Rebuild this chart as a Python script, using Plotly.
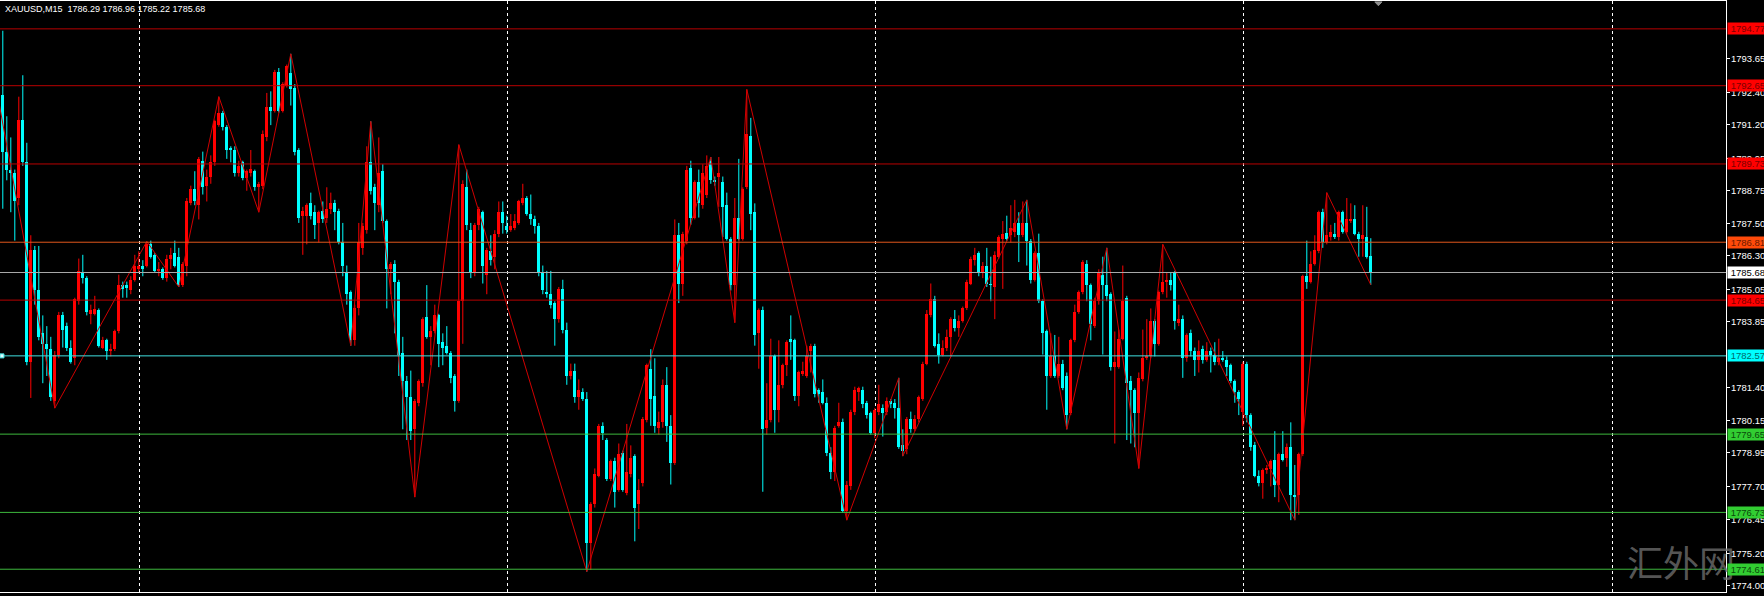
import plotly.graph_objects as go

symbol = "XAUUSD,M15"

opens = [
1792.51,1792.31,1790.19,1789.52,1789.39,1788.46,1791.38,1789.79,1782.35,1786.53,
1785.01,1783.41,1783.02,1782.82,1780.89,1782.62,1784.08,1783.68,1782.88,1782.48,
1784.61,1785.67,1785.47,1784.14,1784.14,1784.28,1782.88,1783.15,1782.75,1782.82,
1783.48,1785.21,1785.21,1785.01,1785.41,1785.80,1785.94,1785.94,1786.73,1786.34,
1785.74,1785.80,1785.47,1786.20,1786.40,1786.27,1785.21,1785.94,1788.26,1788.79,
1788.19,1789.85,1788.92,1789.26,1789.79,1791.18,1791.65,1791.12,1790.32,1790.25,
1789.39,1789.79,1789.19,1789.39,1789.46,1788.86,1788.92,1790.72,1791.85,1791.71,
1793.17,1791.71,1792.64,1793.11,1792.58,1790.25,1787.80,1787.80,1788.26,1787.93,
1787.53,1787.99,1787.73,1788.06,1788.26,1787.99,1786.80,1785.67,1784.94,1783.15,
1784.34,1786.60,1787.26,1789.79,1788.86,1788.19,1789.46,1787.60,1785.80,1786.00,
1785.34,1782.68,1781.62,1781.02,1779.83,1780.82,1781.55,1784.01,1783.28,1783.48,
1784.08,1783.08,1782.95,1782.68,1781.82,1780.89,1784.61,1788.86,1787.26,1785.67,
1787.46,1787.93,1785.60,1786.47,1786.27,1787.13,1787.93,1787.40,1787.26,1787.33,
1787.53,1788.26,1788.46,1787.86,1787.66,1787.40,1785.67,1784.94,1784.87,1784.54,
1783.94,1785.07,1783.55,1781.82,1782.02,1781.02,1781.22,1780.96,1775.58,1777.04,
1778.10,1779.96,1779.43,1777.97,1778.63,1777.57,1778.96,1777.44,1778.17,1778.83,
1777.04,1777.84,1780.16,1782.09,1781.09,1779.89,1780.09,1781.49,1779.96,1778.57,
1787.07,1785.27,1786.87,1789.59,1787.73,1789.06,1788.19,1788.59,1789.85,1789.12,
1789.26,1789.06,1788.19,1786.93,1785.21,1787.73,1786.93,1788.86,1790.78,1787.93,
1783.41,1784.28,1779.89,1780.16,1782.55,1780.56,1781.49,1782.22,1783.21,1783.15,
1781.09,1781.89,1781.82,1782.75,1782.95,1781.29,1781.22,1780.82,1778.96,1778.24,
1779.96,1780.09,1776.77,1777.70,1780.49,1781.22,1781.29,1780.82,1780.43,1779.70,
1780.49,1780.62,1780.49,1780.89,1780.82,1780.62,1779.23,1779.10,1780.23,1779.83,
1780.23,1780.96,1782.28,1784.08,1784.68,1783.02,1782.62,1782.88,1783.28,1783.94,
1783.61,1783.88,1784.34,1785.27,1786.14,1786.40,1785.67,1785.94,1785.27,1785.14,
1786.27,1786.93,1787.16,1787.07,1787.20,1787.53,1787.07,1787.53,1786.87,1785.41,
1786.40,1784.61,1783.48,1781.82,1782.55,1781.82,1782.28,1781.82,1780.43,1783.15,
1784.21,1784.94,1786.00,1785.21,1783.68,1784.61,1785.60,1785.21,1784.87,1782.15,
1782.15,1783.21,1784.74,1781.62,1781.29,1780.43,1781.69,1782.48,1782.55,1783.88,
1783.02,1784.94,1785.34,1785.41,1785.67,1783.81,1783.94,1782.48,1783.41,1782.75,
1782.42,1782.82,1782.42,1782.75,1782.62,1782.35,1782.48,1782.42,1782.22,1781.62,
1781.22,1780.49,1782.28,1780.36,1779.23,1778.10,1777.84,1778.30,1778.34,1778.70,
1777.77,1778.90,1778.77,1779.16,1777.37,1777.37,1778.90,1785.54,1785.34,1786.00,
1786.47,1787.93,1786.80,1787.00,1787.13,1787.00,1787.93,1787.20,1787.60,1787.66,
1787.13,1786.93,1787.00,1786.29]

highs = [
1792.58,1794.70,1791.51,1790.72,1789.52,1792.24,1793.04,1790.52,1787.07,1786.67,
1786.67,1784.08,1783.68,1783.28,1782.75,1784.21,1784.21,1783.81,1783.15,1784.74,
1786.20,1786.34,1785.54,1784.48,1784.81,1784.34,1783.28,1783.21,1783.02,1783.55,
1785.60,1785.34,1785.34,1785.54,1786.34,1786.47,1786.14,1786.84,1786.87,1786.40,
1786.07,1785.87,1786.34,1786.60,1786.87,1786.60,1786.07,1788.46,1788.92,1789.46,
1789.99,1790.19,1789.52,1790.05,1791.38,1792.24,1791.71,1791.18,1790.39,1790.39,
1789.85,1789.85,1789.52,1790.25,1789.52,1789.06,1790.98,1792.38,1792.44,1793.24,
1793.31,1792.78,1793.44,1793.84,1792.71,1790.32,1788.13,1788.26,1788.66,1788.19,
1787.99,1788.33,1788.86,1788.66,1788.39,1788.06,1787.53,1785.94,1785.01,1784.48,
1787.53,1787.53,1790.39,1791.32,1788.99,1790.72,1789.72,1787.66,1786.07,1786.14,
1785.41,1783.28,1781.82,1782.02,1780.96,1781.69,1784.01,1785.21,1783.68,1784.48,
1784.14,1783.41,1783.68,1782.75,1781.89,1790.45,1789.12,1789.52,1787.53,1787.53,
1788.13,1787.99,1786.60,1787.07,1787.26,1788.33,1788.33,1787.80,1787.86,1787.86,
1788.39,1788.99,1788.53,1788.59,1787.80,1787.53,1785.94,1785.74,1785.74,1784.61,
1785.14,1785.41,1783.81,1782.28,1782.28,1781.69,1781.36,1781.22,1777.11,1778.37,
1780.03,1780.09,1779.50,1778.70,1778.77,1779.30,1779.03,1780.03,1779.23,1778.90,
1777.97,1780.29,1782.28,1782.82,1782.48,1780.49,1781.69,1782.15,1780.36,1787.66,
1787.53,1787.20,1789.66,1789.85,1789.12,1789.52,1789.72,1790.05,1789.99,1789.26,
1789.99,1789.26,1788.66,1787.00,1788.46,1789.92,1788.86,1792.51,1791.45,1788.26,
1784.34,1784.41,1781.55,1783.21,1782.62,1783.15,1782.28,1783.15,1784.08,1783.21,
1782.02,1782.35,1782.95,1783.02,1783.02,1781.36,1781.69,1781.02,1779.16,1779.96,
1780.82,1780.23,1777.90,1780.56,1781.42,1781.42,1781.42,1780.89,1780.49,1780.62,
1781.49,1780.76,1781.02,1780.96,1780.96,1781.75,1779.83,1780.29,1780.49,1780.36,
1781.09,1782.35,1784.28,1785.27,1784.81,1783.41,1783.15,1783.55,1784.01,1784.28,
1784.08,1784.41,1785.41,1786.27,1786.60,1786.47,1786.07,1786.60,1786.27,1786.47,
1787.07,1787.60,1787.80,1788.19,1788.39,1787.93,1788.33,1788.39,1786.93,1786.47,
1787.13,1784.68,1783.55,1783.41,1783.35,1783.28,1782.42,1781.95,1783.21,1784.48,
1785.01,1786.14,1786.14,1785.27,1784.74,1785.80,1786.27,1786.60,1784.94,1783.48,
1783.55,1785.94,1784.81,1781.82,1781.36,1781.95,1783.55,1783.94,1784.34,1783.94,
1785.01,1786.73,1785.67,1785.67,1785.74,1784.48,1784.08,1783.41,1783.55,1782.88,
1783.15,1782.95,1783.08,1782.88,1783.08,1783.21,1782.75,1782.55,1782.28,1781.69,
1781.29,1782.35,1782.35,1780.43,1779.36,1778.30,1778.37,1778.50,1778.70,1779.76,
1778.96,1779.76,1779.30,1780.09,1778.50,1778.96,1785.60,1786.87,1786.47,1787.07,
1787.99,1788.06,1788.66,1787.46,1787.53,1787.99,1787.99,1788.46,1788.26,1788.19,
1787.20,1788.19,1788.13,1786.96]

lows = [
1791.51,1788.06,1789.12,1787.93,1786.87,1788.19,1789.66,1782.22,1781.00,1784.48,
1783.15,1781.55,1781.82,1780.89,1780.62,1782.48,1782.88,1782.75,1782.28,1782.22,
1784.48,1785.27,1784.08,1783.75,1784.08,1782.88,1782.82,1782.42,1782.55,1782.75,
1783.41,1784.74,1784.74,1784.87,1785.34,1785.67,1785.54,1785.87,1786.20,1785.67,
1785.54,1785.41,1785.34,1785.80,1785.87,1785.14,1785.14,1785.54,1788.19,1788.19,
1787.66,1788.59,1788.33,1788.99,1789.66,1791.12,1790.98,1789.92,1789.79,1789.26,
1789.26,1789.12,1788.73,1789.26,1788.73,1787.93,1788.79,1790.58,1791.18,1791.65,
1791.65,1791.65,1792.58,1791.91,1790.05,1787.53,1786.34,1786.73,1787.66,1786.93,
1786.80,1787.53,1787.53,1787.86,1787.26,1786.73,1785.54,1784.48,1782.95,1782.95,
1784.08,1786.34,1787.13,1788.59,1787.26,1787.93,1787.53,1784.34,1784.87,1783.41,
1781.82,1779.83,1779.43,1779.43,1777.30,1780.69,1781.42,1783.21,1782.22,1783.41,
1782.15,1782.22,1782.62,1781.55,1780.49,1780.82,1783.02,1787.26,1785.47,1785.54,
1787.26,1785.27,1784.87,1785.94,1785.80,1787.00,1787.13,1787.13,1787.20,1787.26,
1787.46,1788.19,1787.80,1787.46,1787.13,1785.54,1784.87,1784.74,1784.34,1782.95,
1783.81,1783.41,1781.49,1781.69,1780.82,1780.56,1780.89,1774.52,1774.58,1776.91,
1778.04,1779.43,1777.90,1777.90,1776.91,1777.50,1777.50,1777.37,1778.04,1775.65,
1776.11,1777.70,1780.09,1779.96,1779.70,1779.63,1779.89,1779.36,1777.77,1778.50,
1784.54,1784.81,1786.73,1787.46,1787.66,1787.73,1788.06,1788.46,1788.99,1788.92,
1788.13,1787.00,1786.87,1785.01,1783.81,1786.87,1786.87,1788.79,1787.26,1782.95,
1782.09,1777.50,1779.63,1780.09,1779.70,1780.09,1781.36,1781.82,1782.42,1780.89,
1780.69,1781.82,1781.75,1781.95,1781.02,1780.82,1780.76,1778.83,1777.97,1777.90,
1779.89,1776.71,1776.44,1777.57,1780.36,1780.89,1780.62,1780.23,1779.63,1779.50,
1780.36,1779.56,1780.36,1780.62,1780.23,1779.10,1778.83,1778.90,1779.70,1779.76,
1780.09,1780.89,1782.22,1784.01,1782.88,1782.28,1782.55,1782.75,1782.55,1783.48,
1783.28,1783.81,1784.28,1785.21,1785.94,1785.54,1785.47,1785.14,1784.61,1783.94,
1786.20,1785.07,1786.87,1786.80,1787.00,1786.07,1787.00,1785.94,1785.27,1785.34,
1784.54,1782.62,1780.56,1781.75,1781.75,1781.75,1781.29,1779.83,1780.36,1783.08,
1784.14,1784.87,1784.61,1783.15,1783.61,1784.48,1782.62,1784.61,1782.02,1779.30,
1782.09,1783.15,1779.43,1779.30,1779.16,1778.37,1781.62,1782.42,1782.48,1782.55,
1782.95,1784.87,1784.74,1785.01,1783.55,1783.68,1781.75,1782.35,1782.55,1781.82,
1781.95,1782.28,1782.35,1781.95,1782.22,1782.22,1782.35,1781.82,1781.55,1780.82,
1780.36,1779.96,1780.09,1779.03,1778.04,1777.70,1777.24,1778.17,1777.70,1777.30,
1777.11,1778.63,1778.43,1776.44,1776.44,1776.64,1778.83,1785.07,1785.27,1785.94,
1786.40,1786.60,1786.73,1786.87,1786.93,1786.87,1787.13,1787.13,1787.53,1787.07,
1786.27,1786.27,1786.20,1785.22]

closes = [
1791.65,1790.19,1789.52,1789.39,1788.33,1791.38,1789.79,1782.35,1786.53,1785.01,
1783.28,1783.02,1782.82,1781.02,1782.62,1784.08,1783.55,1782.88,1782.35,1784.68,
1785.74,1785.47,1784.21,1784.28,1784.32,1782.95,1783.15,1782.75,1782.82,1783.51,
1785.21,1785.07,1785.11,1785.41,1785.94,1785.94,1785.80,1786.76,1786.27,1785.74,
1785.80,1785.47,1786.20,1786.34,1785.94,1785.21,1786.00,1788.33,1788.79,1788.33,
1789.92,1788.86,1789.26,1789.79,1791.32,1791.65,1791.12,1790.25,1790.25,1789.39,
1789.66,1789.19,1789.46,1789.55,1788.86,1788.99,1790.85,1791.85,1791.71,1793.17,
1791.71,1792.71,1793.37,1792.51,1790.19,1787.73,1787.99,1788.19,1787.80,1787.46,
1787.93,1787.66,1788.06,1788.26,1787.93,1786.80,1785.94,1784.87,1783.15,1784.34,
1786.80,1787.40,1789.79,1788.73,1788.26,1789.39,1787.60,1785.80,1786.00,1785.34,
1782.62,1781.62,1781.02,1779.76,1780.89,1781.62,1783.94,1783.28,1783.48,1784.08,
1783.02,1782.88,1782.68,1781.75,1780.89,1784.61,1788.99,1787.46,1785.67,1787.46,
1788.06,1785.94,1786.53,1786.14,1787.13,1787.93,1787.53,1787.26,1787.40,1787.60,
1788.33,1788.46,1787.86,1787.66,1787.40,1785.67,1785.01,1784.87,1784.48,1783.94,
1785.07,1783.55,1781.82,1782.02,1781.02,1781.29,1780.96,1775.58,1777.04,1778.17,
1779.96,1779.70,1777.97,1778.63,1777.50,1778.90,1777.57,1778.24,1778.77,1776.91,
1777.57,1780.23,1782.22,1780.96,1779.96,1780.09,1781.49,1779.96,1778.57,1787.07,
1785.27,1787.13,1789.52,1787.73,1789.06,1788.26,1789.39,1789.66,1789.12,1789.06,
1789.39,1788.13,1786.93,1785.21,1787.73,1786.93,1788.79,1790.85,1787.86,1783.35,
1784.28,1779.83,1780.16,1782.55,1780.56,1781.49,1782.22,1783.08,1783.08,1781.09,
1781.95,1782.02,1782.55,1782.95,1781.16,1781.16,1780.82,1778.96,1778.24,1779.89,
1780.09,1776.77,1777.77,1780.49,1781.29,1781.36,1780.76,1780.36,1779.70,1780.56,
1780.76,1780.43,1780.89,1780.76,1780.62,1779.16,1779.03,1780.23,1779.83,1780.23,
1781.02,1782.28,1784.14,1784.68,1782.95,1782.62,1782.88,1783.28,1783.94,1783.61,
1783.88,1784.34,1785.34,1786.20,1786.34,1785.67,1785.94,1785.27,1785.21,1786.34,
1787.00,1787.13,1786.93,1787.33,1787.53,1787.07,1787.53,1786.87,1785.41,1786.40,
1784.61,1783.41,1781.82,1782.55,1781.82,1782.28,1781.36,1780.36,1783.15,1784.21,
1784.94,1786.07,1785.21,1783.75,1784.61,1785.67,1785.21,1784.81,1782.15,1782.35,
1783.21,1784.61,1781.55,1781.29,1780.43,1781.75,1782.48,1782.55,1783.88,1783.02,
1784.94,1785.34,1785.41,1785.21,1783.88,1783.94,1782.48,1783.35,1782.75,1782.42,
1782.75,1782.42,1782.75,1782.62,1782.35,1782.48,1782.42,1782.15,1781.62,1781.22,
1780.96,1782.28,1780.36,1779.16,1778.10,1777.84,1778.30,1778.37,1778.63,1777.77,
1778.90,1778.70,1779.16,1777.37,1777.30,1778.90,1785.54,1785.34,1786.00,1786.53,
1787.93,1786.80,1787.07,1787.20,1787.00,1787.93,1787.20,1787.66,1787.66,1787.13,
1786.93,1787.07,1786.27,1785.68]

# ZigZag indicator swing points (bar index, price)
zz_index = [0, 14, 37, 45, 55, 65, 73, 88, 93, 104, 115, 147, 178, 184, 187,
            212, 225, 226, 257, 267, 277, 285, 291, 324, 332, 343]
zz_price = [1792.05, 1780.62, 1786.84, 1785.14, 1792.24, 1787.93, 1793.84, 1782.95,
            1791.32, 1777.30, 1790.45, 1774.52, 1789.99, 1783.81, 1792.51, 1776.44,
            1781.75, 1778.83, 1788.39, 1779.83, 1786.60, 1778.37, 1786.73, 1776.44,
            1788.66, 1785.22]

# Horizontal price levels
level_prices = [1794.77, 1792.65, 1789.73, 1786.81, 1785.68, 1784.65, 1782.57,
                1779.65, 1776.73, 1774.61]
level_line_colors = ["#B80000", "#B80000", "#B80000", "#E0561C", "#A8A8A8",
                     "#B80000", "#40E0E0", "#3DB83D", "#3DB83D", "#3DB83D"]
level_label_bg = ["#FF0000", "#FF0000", "#FF0000", "#FF4A0A", "#FFFFFF",
                  "#FF0000", "#00FFFF", "#32CD32", "#32CD32", "#32CD32"]
level_label_fg = ["#7A0000", "#7A0000", "#7A0000", "#6A1A00", "#000000",
                  "#7A0000", "#006A6A", "#0A4A0A", "#0A4A0A", "#0A4A0A"]

axis_ticks = [1793.65, 1792.40, 1791.20, 1789.95, 1788.75, 1787.50, 1786.30,
              1785.05, 1783.85, 1781.40, 1780.15, 1778.95, 1777.70, 1776.45,
              1775.20, 1774.00]

# vertical period separators (bar positions)
grid_x = [35.1, 127.1, 219.2, 311.1, 403.3]

watermark = "汇外网"

UP = "#FF0000"
DN = "#00FFFF"
FONT = "Liberation Sans"
NB = "\u00a0"

n = len(closes)
idx = list(range(n))
is_up = [c >= o for o, c in zip(opens, closes)]

fig = go.Figure()

for flag, col in ((True, UP), (False, DN)):
    xs, ys = [], []
    for i in idx:
        if is_up[i] == flag:
            xs += [i, i, None]
            ys += [lows[i], highs[i], None]
    fig.add_trace(go.Scatter(x=xs, y=ys, mode="lines",
                             line=dict(color=col, width=1),
                             hoverinfo="skip", showlegend=False))

fig.add_trace(go.Bar(
    x=idx,
    y=[max(abs(c - o), 0.02) for o, c in zip(opens, closes)],
    base=[min(o, c) for o, c in zip(opens, closes)],
    width=0.75,
    marker=dict(color=[UP if u else DN for u in is_up], line=dict(width=0)),
    hoverinfo="skip", showlegend=False))

fig.add_trace(go.Scatter(x=zz_index, y=zz_price, mode="lines",
                         line=dict(color="#D00000", width=1),
                         hoverinfo="skip", showlegend=False))

shapes = []
for p, col in zip(level_prices, level_line_colors):
    shapes.append(dict(type="line", xref="paper", yref="y", x0=0, x1=1,
                       y0=p, y1=p, line=dict(color=col, width=1), layer="above"))

# anchor square of the cyan level line
shapes.append(dict(type="rect", xref="paper", yref="y", x0=0, x1=0.0023,
                   y0=level_prices[6] - 0.075, y1=level_prices[6] + 0.075,
                   fillcolor="#E0FFFF", line=dict(color="#40E0E0", width=1), layer="above"))
# chart shift marker
shapes.append(dict(type="path", xref="x", yref="paper",
                   path="M 344.0,0.9985 L 345.8,0.9985 L 344.9,0.992 Z",
                   fillcolor="#909090", line=dict(color="#909090", width=1), layer="above"))

annotations = []
annotations.append(dict(text=watermark, xref="paper", yref="paper",
                        x=0.974, y=0.052, xanchor="center", yanchor="middle",
                        showarrow=False,
                        font=dict(family="Noto Sans CJK SC", size=36,
                                  color="rgba(110,110,110,0.8)")))

# price scale labels
for t in axis_ticks:
    annotations.append(dict(text=f"{t:.2f}", xref="paper", yref="y", x=1, y=t,
                            xanchor="left", yanchor="middle", xshift=4,
                            showarrow=False, borderpad=0,
                            font=dict(family=FONT, size=9.5, color="#FFFFFF")))

# level labels
for p, bg, fg in zip(level_prices, level_label_bg, level_label_fg):
    annotations.append(dict(text=f"{NB}{p:.2f}", xref="paper", yref="y", x=1, y=p,
                            xanchor="left", yanchor="middle", xshift=1,
                            showarrow=False, bgcolor=bg, borderpad=0,
                            width=40, height=11, align="left",
                            font=dict(family=FONT, size=9.5, color=fg)))

title = (f"{symbol}{NB}{NB}{opens[-1]:.2f} {highs[-1]:.2f} "
         f"{lows[-1]:.2f} {closes[-1]:.2f}")
annotations.append(dict(text=title, xref="paper", yref="paper", x=0.0015, y=0.9865,
                        xanchor="left", yanchor="middle", showarrow=False,
                        font=dict(family=FONT, size=9, color="#FFFFFF")))

fig.update_layout(
    width=1764, height=596, autosize=False,
    margin=dict(l=0, r=38, t=1, b=4, pad=0),
    paper_bgcolor="#000000", plot_bgcolor="#000000",
    showlegend=False, hovermode=False,
    shapes=shapes, annotations=annotations,
    xaxis=dict(range=[0.3, 431.8], showline=True, mirror=True, linecolor="#FFFFFF",
               linewidth=1, showticklabels=False, ticks="", tickvals=grid_x,
               showgrid=True, gridcolor="#FFFFFF", gridwidth=1, griddash="3px,3px",
               zeroline=False, fixedrange=True, automargin=False),
    yaxis=dict(range=[1773.76, 1795.81], side="right", showline=True,
               linecolor="#FFFFFF", linewidth=1, tickvals=axis_ticks,
               showticklabels=False, ticks="outside",
               ticklen=3, tickcolor="#FFFFFF",
               showgrid=False, zeroline=False, fixedrange=True, automargin=False),
    bargap=0,
)

fig.write_html("out.html",
               config={"displayModeBar": False, "staticPlot": True},
               post_script="document.body.style.margin='0';document.body.style.padding='0';")
